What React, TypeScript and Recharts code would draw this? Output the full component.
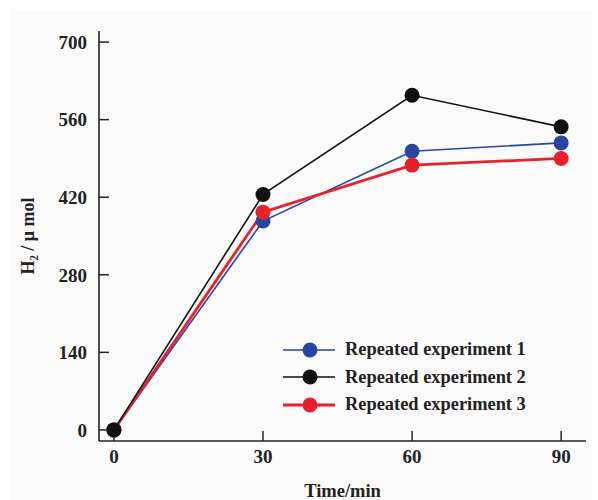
import React from "react";
import { LineChart, Line, XAxis, YAxis, Legend } from "recharts";

// Sampling times (min)
const times = [0, 30, 60, 90];
// H2 evolved (μmol) for each repeated run
const run1 = [0, 377, 503, 518];
const run2 = [0, 425, 604, 547];
const run3 = [0, 393, 478, 490];

const xTicks = [0, 30, 60, 90];
const yTicks = [0, 140, 280, 420, 560, 700];

const seriesNames = ["Repeated experiment 1", "Repeated experiment 2", "Repeated experiment 3"];
const colors = ["#2846a0", "#111111", "#e8202a"];
const widths = [1.6, 1.6, 2.8];

const data = times.map((t, i) => ({ t, r1: run1[i], r2: run2[i], r3: run3[i] }));

const FONT = "'Liberation Serif', 'Times New Roman', serif";

const LegendBox = (props: any) => {
  const payload = [...(props.payload || [])].sort(
    (a: any, b: any) => seriesNames.indexOf(a.value) - seriesNames.indexOf(b.value)
  );
  return (
    <div style={{ fontFamily: FONT }}>
      {payload.map((p: any) => {
        const idx = seriesNames.indexOf(p.value);
        return (
          <div key={p.value} style={{ display: "flex", alignItems: "center", height: 27.5 }}>
            <svg width={62} height={20} style={{ display: "block" }}>
              <line x1={0} y1={10} x2={52} y2={10} stroke={colors[idx]} strokeWidth={widths[idx]} />
              <circle cx={27} cy={10} r={7.5} fill={colors[idx]} />
            </svg>
            <span style={{ fontWeight: "bold", fontSize: 18.4, color: "#222" }}>{p.value}</span>
          </div>
        );
      })}
    </div>
  );
};

export default function App() {
  const tickStyle = { fontFamily: FONT, fontWeight: "bold", fontSize: 19, fill: "#222" };
  return (
    <div style={{ position: "absolute", left: 0, top: 0, width: 598, height: 500, background: "#fff" }}>
      <div style={{ position: "absolute", left: 10, top: 9, width: 582, height: 491, background: "#fafafa" }} />
      <div style={{ position: "absolute", left: 0, top: 0 }}>
        <LineChart width={598} height={500} data={data} margin={{ top: 31, right: 12, bottom: 29, left: 39 }}>
          <XAxis
            dataKey="t"
            type="number"
            domain={[-3, 95]}
            ticks={xTicks}
            tickSize={-10}
            tickMargin={19}
            tick={tickStyle}
            stroke="#222"
            axisLine={{ stroke: "#222", strokeWidth: 1.6 }}
            tickLine={{ stroke: "#222", strokeWidth: 1.5 }}
            height={30}
            label={{ value: "Time/min", position: "insideBottom", offset: -26, style: { fontFamily: FONT, fontWeight: "bold", fontSize: 18.5, fill: "#222" } }}
          />
          <XAxis xAxisId="top" dataKey="t" type="number" domain={[-3, 95]} orientation="top" height={0} tick={false} tickLine={false} axisLine={{ stroke: "#222", strokeWidth: 1.6 }} />
          <YAxis
            type="number"
            domain={[-20, 720]}
            ticks={yTicks}
            tickSize={-10}
            tickMargin={22}
            tick={tickStyle}
            axisLine={{ stroke: "#222", strokeWidth: 1.6 }}
            tickLine={{ stroke: "#222", strokeWidth: 1.5 }}
            width={60}
            label={{
              value: "H₂ / μ mol",
              angle: -90,
              position: "insideLeft",
              offset: -11,
              style: { fontFamily: FONT, fontWeight: "bold", fontSize: 18, fill: "#222", textAnchor: "middle" },
            }}
          />
          <YAxis yAxisId="right" type="number" domain={[-20, 720]} orientation="right" width={0} tick={false} tickLine={false} axisLine={{ stroke: "#222", strokeWidth: 1.6 }} />
          <Line dataKey="r1" name={seriesNames[0]} stroke={colors[0]} strokeWidth={widths[0]} dot={{ r: 7.5, fill: colors[0], stroke: colors[0], strokeWidth: 0 }} isAnimationActive={false} />
          <Line dataKey="r3" name={seriesNames[2]} stroke={colors[2]} strokeWidth={widths[2]} dot={{ r: 7.5, fill: colors[2], stroke: colors[2], strokeWidth: 0 }} isAnimationActive={false} />
          <Line dataKey="r2" name={seriesNames[1]} stroke={colors[1]} strokeWidth={widths[1]} dot={{ r: 7.5, fill: colors[1], stroke: colors[1], strokeWidth: 0 }} isAnimationActive={false} />
          <Legend content={LegendBox} layout="vertical" verticalAlign="middle" align="center" wrapperStyle={{ left: 283, top: 336, width: 270 }} />
        </LineChart>
      </div>
    </div>
  );
}
